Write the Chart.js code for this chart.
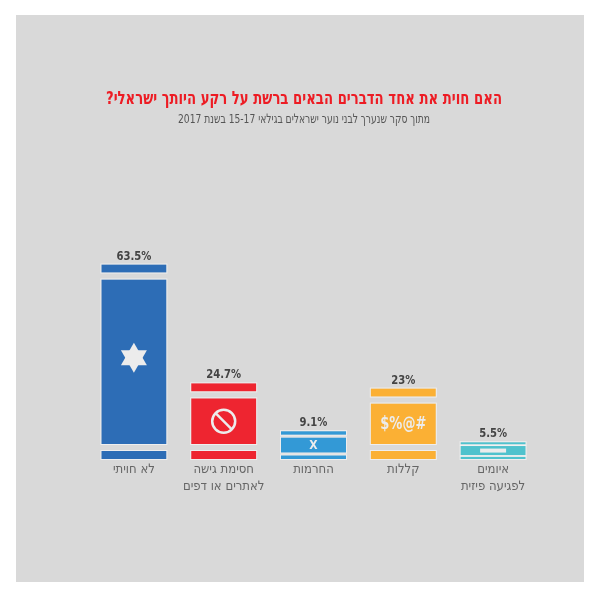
<!DOCTYPE html>
<html>
<head>
<meta charset="utf-8">
<script src="https://cdn.jsdelivr.net/npm/chart.js@4"></script>
<style>
  html, body { margin: 0; padding: 0; background: #fff; }
  canvas { display: block; }
</style>
</head>
<body>
<canvas id="harassChart" width="600" height="598" dir="rtl"></canvas>
<script>
const categories = [
  "לא חויתי",
  ["חסימת גישה", "לאתרים או דפים"],
  "החרמות",
  "קללות",
  ["איומים", "לפגיעה פיזית"]
]
const values = [63.5, 24.7, 9.1, 23, 5.5]
const valueLabels = ["63.5%", "24.7%", "9.1%", "23%", "5.5%"]
const barColors = ["#2d6db6", "#ee2530", "#3399d6", "#fbb034", "#4fc2cd"]
const icons = ["star", "forbidden", "X", "$%@#", "dash"]

const title = "האם חוית את אחד הדברים הבאים ברשת על רקע היותך ישראלי?"
const subtitle = "מתוך סקר שנערך לבני נוער ישראלים בגילאי 15-17 בשנת 2017"

const PANEL = "#d9d9d9"
const FONT = "'DejaVu Sans Condensed', 'DejaVu Sans', sans-serif"

// grey card behind everything + heading (maxWidth squeezes it like the narrow original face)
const panelPlugin = {
  id: 'panel',
  beforeDraw(chart) {
    const ctx = chart.ctx
    ctx.save()
    ctx.fillStyle = PANEL
    ctx.fillRect(16, 15, 568, 567)
    ctx.direction = 'rtl'
    ctx.textAlign = 'center'
    ctx.textBaseline = 'middle'
    ctx.fillStyle = "#ed1c24"
    ctx.font = "bold 18px " + FONT
    ctx.fillText(title, 304, 99, 396)
    ctx.fillStyle = "#555"
    ctx.font = "13px " + FONT
    ctx.fillText(subtitle, 304, 120, 252)
    ctx.restore()
  }
}

// cut each bar into stripe / body / stripe and put the icon + value on it
const flagPlugin = {
  id: 'flags',
  afterDatasetsDraw(chart) {
    const ctx = chart.ctx
    const meta = chart.getDatasetMeta(0)
    meta.data.forEach((bar, i) => {
      const { x, y, base, width } = bar.getProps(['x', 'y', 'base', 'width'])
      const l = x - width / 2
      const h = base - y
      const stripe = Math.min(h * 0.13, 8)
      const gap = Math.min(h * 0.1, 7)
      const bodyTop = y + stripe + gap
      const bodyBot = base - stripe - gap
      ctx.save()
      ctx.fillStyle = PANEL
      ctx.fillRect(l - 1, y + stripe, width + 2, gap)
      ctx.fillRect(l - 1, bodyBot, width + 2, gap)
      ctx.strokeStyle = "rgba(255,255,255,0.55)"
      ctx.lineWidth = 1
      ;[[y, y + stripe], [bodyTop, bodyBot], [base - stripe, base]].forEach(([a, b]) => {
        ctx.strokeRect(l - 0.5, a - 0.5, width + 1, b - a + 1)
      })

      const cy = (bodyTop + bodyBot) / 2
      ctx.fillStyle = "#ececec"
      ctx.strokeStyle = "#ececec"
      const icon = icons[i]
      if (icon === 'star') {
        const r = 15
        const sy = cy - 4
        for (const rot of [-Math.PI / 2, Math.PI / 2]) {
          ctx.beginPath()
          for (let k = 0; k < 3; k++) {
            const a = rot + k * 2 * Math.PI / 3
            ctx.lineTo(x + r * Math.cos(a), sy + r * Math.sin(a))
          }
          ctx.closePath()
          ctx.fill()
        }
      } else if (icon === 'forbidden') {
        ctx.lineWidth = 2.5
        ctx.beginPath()
        ctx.arc(x, cy, 11.5, 0, Math.PI * 2)
        ctx.stroke()
        const d = 11.5 * Math.SQRT1_2
        ctx.beginPath()
        ctx.moveTo(x - d, cy - d)
        ctx.lineTo(x + d, cy + d)
        ctx.stroke()
      } else if (icon === 'dash') {
        ctx.fillRect(x - 13, cy - 2, 26, 4)
      } else {
        ctx.direction = 'ltr'
        ctx.textAlign = 'center'
        ctx.textBaseline = 'middle'
        ctx.font = (icon === 'X' ? "bold 12px " : "bold 17px ") + FONT
        ctx.fillText(icon, x, cy + 1, 46)
      }

      ctx.direction = 'ltr'
      ctx.textAlign = 'center'
      ctx.textBaseline = 'alphabetic'
      ctx.fillStyle = "#444"
      ctx.font = "bold 13px " + FONT
      const natural = ctx.measureText(valueLabels[i]).width
      ctx.fillText(valueLabels[i], x, y - 5, natural * 0.86)
      ctx.restore()
    })
  }
}

new Chart(document.getElementById('harassChart'), {
  type: 'bar',
  data: {
    labels: categories,
    datasets: [{
      data: values,
      backgroundColor: barColors,
      borderWidth: 0,
      barPercentage: 0.724,
      categoryPercentage: 1
    }]
  },
  options: {
    responsive: false,
    animation: false,
    devicePixelRatio: 1,
    layout: { padding: { left: 89, right: 62, top: 214, bottom: 99 } },
    plugins: {
      legend: { display: false },
      tooltip: { enabled: false }
    },
    scales: {
      x: {
        grid: { display: false, drawTicks: false },
        border: { display: false },
        ticks: {
          color: "#666",
          padding: 2,
          font: { family: FONT, size: 13, lineHeight: 1.3 }
        },
        afterFit(scale) { scale.height = 40 }
      },
      y: {
        display: false,
        min: 0,
        max: 80
      }
    }
  },
  plugins: [panelPlugin, flagPlugin]
})
</script>
</body>
</html>
